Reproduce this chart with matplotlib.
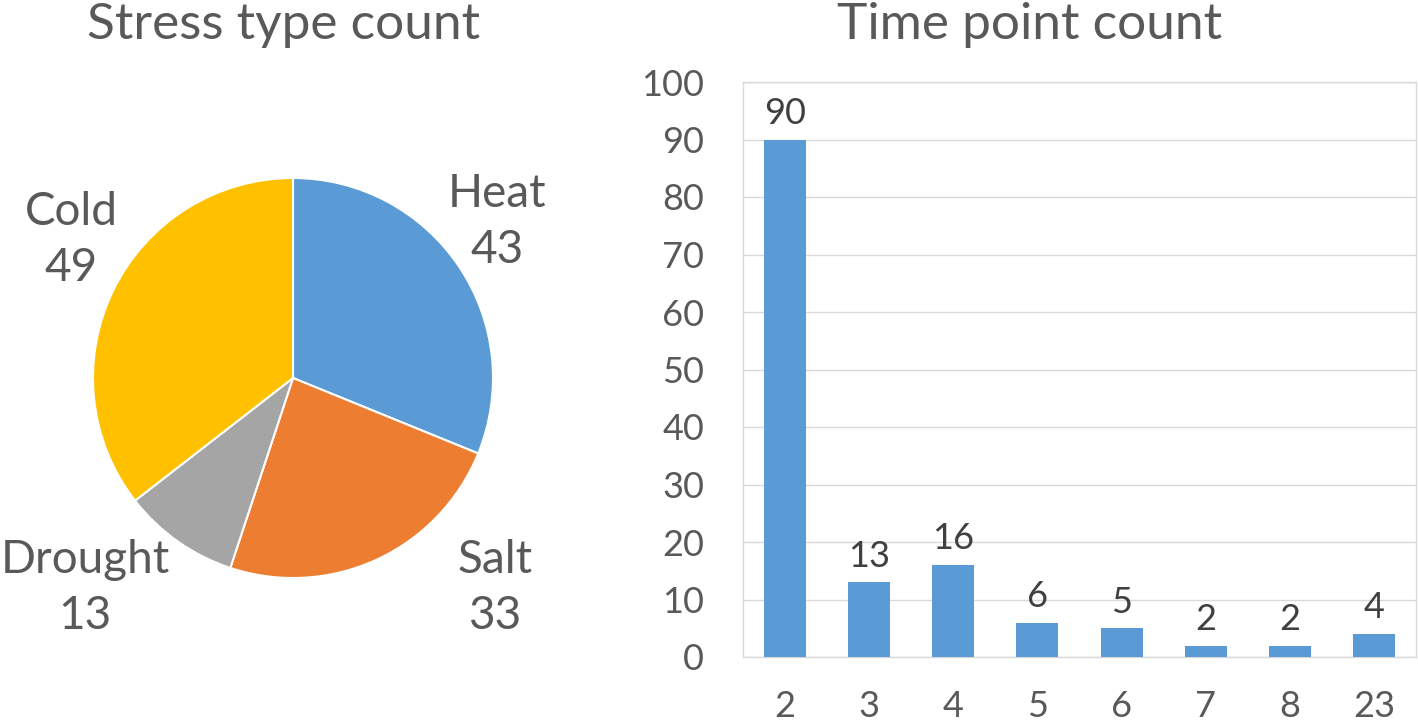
import matplotlib.pyplot as plt
import numpy as np

# Pie data
stress_types = ['Heat', 'Salt', 'Drought', 'Cold']
stress_counts = [43, 33, 13, 49]
stress_colors = ['#5B9BD5', '#ED7D31', '#A5A5A5', '#FFC000']

# Bar data
time_points = ['2', '3', '4', '5', '6', '7', '8', '23']
time_counts = [90, 13, 16, 6, 5, 2, 2, 4]

plt.rcParams['font.family'] = ['Lato', 'DejaVu Sans']
text_col = '#595959'
grid_col = '#D9D9D9'

fig = plt.figure(figsize=(14.18, 7.24), dpi=100)

# Pie chart
ax1 = fig.add_axes([0, 46 / 724, 586 / 1418, 600 / 724])
ax1.pie(stress_counts, colors=stress_colors, startangle=90, counterclock=False,
        radius=1, wedgeprops=dict(edgecolor='white', linewidth=1.5))
ax1.set_xlim(-1.465, 1.465)
ax1.set_ylim(-1.5, 1.5)
ax1.set_aspect('equal', adjustable='box')
ax1.axis('off')

label_pos = {'Heat': (1.02, 0.78), 'Salt': (1.01, -1.05),
             'Drought': (-1.04, -1.05), 'Cold': (-1.11, 0.69)}
for name, val in zip(stress_types, stress_counts):
    x, y = label_pos[name]
    ax1.text(x, y, f'{name}\n{val}', ha='center', va='center', fontsize=33,
             color=text_col, linespacing=1.42)

fig.text(284 / 1418, 1 - 39 / 724, 'Stress type count', ha='center', va='baseline',
         fontsize=37, color=text_col)

# Bar chart
ax2 = fig.add_axes([743 / 1418, 67 / 724, 673 / 1418, 575 / 724])
positions = np.arange(len(time_points))
bars = ax2.bar(positions, time_counts, width=0.5, color='#5B9BD5', zorder=3)
ax2.bar_label(bars, padding=7, fontsize=26, color='#404040')
ax2.set_xlim(-0.5, len(time_points) - 0.5)
ax2.set_ylim(0, 100)
ax2.set_yticks(np.arange(0, 101, 10))
ax2.set_xticks(positions, time_points)
ax2.yaxis.grid(True, color=grid_col, linewidth=1, zorder=0)
for s in ax2.spines.values():
    s.set_color(grid_col)
    s.set_linewidth(1)
ax2.tick_params(axis='both', length=0, labelsize=26, labelcolor=text_col)
ax2.tick_params(axis='y', pad=28)
ax2.tick_params(axis='x', pad=24)

fig.text(1030 / 1418, 1 - 39 / 724, 'Time point count', ha='center', va='baseline',
         fontsize=37, color=text_col)

fig.savefig('out.png', dpi=100)
